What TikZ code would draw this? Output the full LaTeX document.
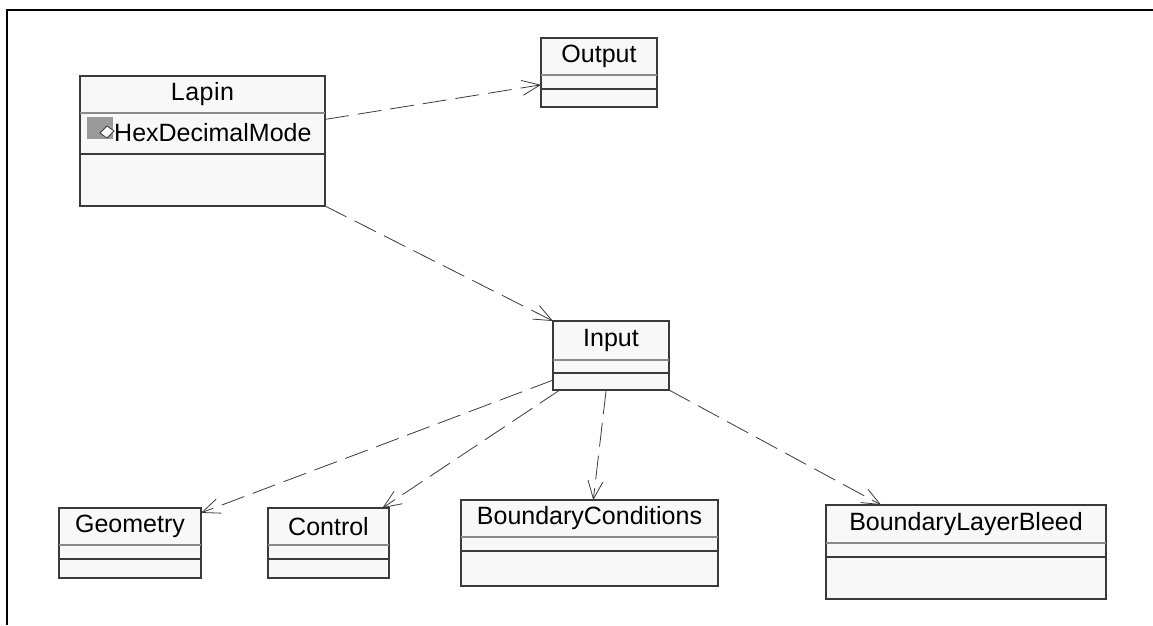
\documentclass[tikz,border=0pt]{standalone}
\usepackage{fontspec}
\setmainfont{Liberation Sans}
\usetikzlibrary{arrows.meta}
\definecolor{boxline}{HTML}{3A3A3A}
\definecolor{boxfill}{HTML}{F8F8F8}
\definecolor{seplight}{HTML}{8A8A8A}
\definecolor{icongray}{HTML}{9A9A9A}
\begin{document}
\begin{tikzpicture}[x=1pt,y=-1pt,
    cls/.style={draw=boxline,fill=boxfill,line width=1.3pt,inner sep=0pt,outer sep=0pt},
    clsname/.style={inner sep=0pt,font=\fontsize{25}{30}\selectfont},
    namesep/.style={draw=seplight,line width=1.1pt},
    opsep/.style={draw=boxline,line width=1.1pt},
    dep/.style={draw=boxline,line width=0.8pt,dash pattern=on 24pt off 9pt,
        -{Straight Barb[length=18pt,width=15pt,line width=0.8pt]}}]
    \useasboundingbox (0,0) rectangle (1153,625);
    % frame
    \draw[line width=2pt] (7,625)--(7,10)--(1153,10);
    % classes
    \node[cls,minimum width=245,minimum height=130] (lapin) at (202.5,141) {};
    \draw[namesep] (80,113)--(325,113);
    \draw[opsep] (80,154)--(325,154);
    \node[clsname] (lapinname) at (202.5,94.5) {L\kern.5pt a\kern.5pt p\kern.5pt i\kern.5pt n};
    \fill[icongray] (87,117) rectangle (113,139);
    \draw[boxline,fill=white,line width=0.8pt] (100,133)--(107,126)--(114,131)--(107,138)--cycle;
    \node[clsname,anchor=base west] (hexmode) at (114,141) {HexDecimalMode};
    \node[cls,minimum width=116,minimum height=69] (output) at (599,72.5) {};
    \draw[namesep] (541,75)--(657,75);
    \draw[opsep] (541,89)--(657,89);
    \node[clsname] (outputname) at (599,56.5) {Output};
    \node[cls,minimum width=116,minimum height=69] (input) at (611,355.5) {};
    \draw[namesep] (553,360)--(669,360);
    \draw[opsep] (553,373)--(669,373);
    \node[clsname] (inputname) at (611,340.5) {Input};
    \node[cls,minimum width=142,minimum height=70] (geometry) at (130,543) {};
    \draw[namesep] (59,545)--(201,545);
    \draw[opsep] (59,559)--(201,559);
    \node[clsname] (geometryname) at (130,526.5) {Geometry};
    \node[cls,minimum width=121,minimum height=70] (control) at (328.5,543) {};
    \draw[namesep] (268,545)--(389,545);
    \draw[opsep] (268,559)--(389,559);
    \node[clsname] (controlname) at (328.5,526.5) {Control};
    \node[cls,minimum width=257,minimum height=86] (bcond) at (589.5,543) {};
    \draw[namesep] (461,537)--(718,537);
    \draw[opsep] (461,551)--(718,551);
    \node[clsname] (bcondname) at (589.5,518.5) {BoundaryConditions};
    \node[cls,minimum width=280,minimum height=94] (bleed) at (966,552) {};
    \draw[namesep] (826,543)--(1106,543);
    \draw[opsep] (826,557)--(1106,557);
    \node[clsname] (bleedname) at (966,524) {BoundaryLayerBleed};
    % dependencies
    \draw[dep] (lapin.10)--(output.192);
    \draw[dep] (lapin.south east)--(input.north west);
    \draw[dep] (input.203)--(geometry.23);
    \draw[dep] (input.214)--(control.33);
    \draw[dep] (input.262)--(bcond.85);
    \draw[dep] (input.south east)--(bleed.151);
\end{tikzpicture}
\end{document}
